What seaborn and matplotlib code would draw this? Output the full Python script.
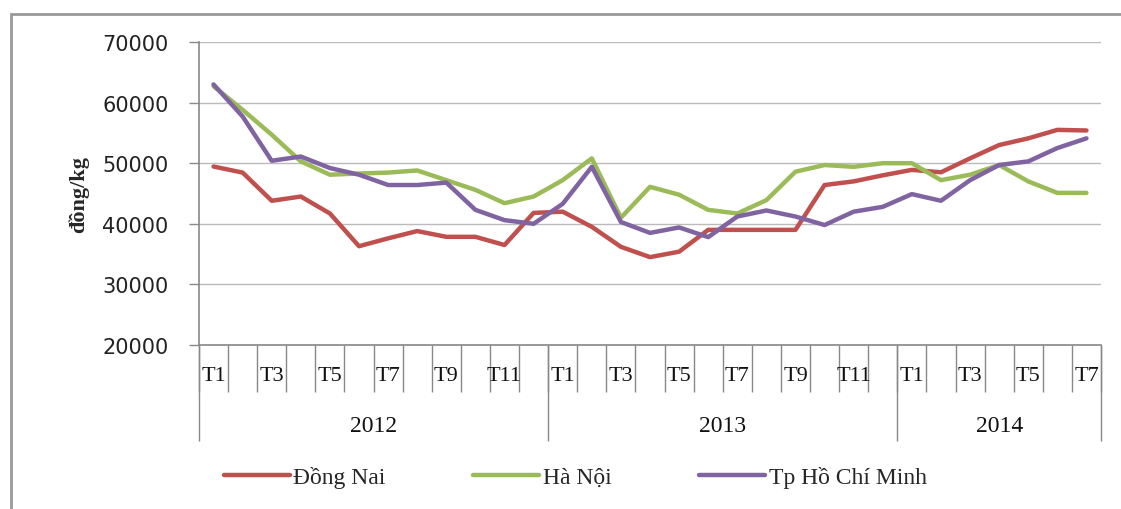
import numpy as np
import pandas as pd
import matplotlib
matplotlib.use("Agg")
import matplotlib.pyplot as plt
from matplotlib.patches import Rectangle
import seaborn as sns

# monthly prices, T1/2012 .. T7/2014
years = ['2012', '2013', '2014']
months_per_year = [12, 12, 7]
regions = ['Đồng Nai', 'Hà Nội', 'Tp Hồ Chí Minh']

dong_nai = [49450, 48450, 43800, 44500, 41700, 36300, 37600, 38800, 37850, 37850, 36500, 41800,
            42000, 39500, 36200, 34500, 35400, 39000, 39000, 39000, 39000, 46400, 47000, 48000,
            48900, 48500, 50800, 53000, 54100, 55500, 55400]
ha_noi = [62700, 58800, 54700, 50300, 48100, 48300, 48450, 48800, 47200, 45600, 43400, 44500,
          47200, 50800, 41000, 46100, 44800, 42300, 41700, 43900, 48600, 49700, 49400, 50000,
          50000, 47200, 48100, 49700, 47000, 45100, 45100]
hcm = [63000, 57700, 50400, 51100, 49200, 48100, 46400, 46400, 46800, 42300, 40600, 40000,
       43300, 49400, 40300, 38500, 39400, 37800, 41200, 42200, 41200, 39800, 42000, 42800,
       44900, 43800, 47200, 49700, 50300, 52500, 54100]

colors = ['#C0504D', '#9BBB59', '#8064A2']

n = len(dong_nai)
df = pd.DataFrame({
    'idx': list(range(n)) * 3,
    'price': dong_nai + ha_noi + hcm,
    'region': [regions[0]] * n + [regions[1]] * n + [regions[2]] * n,
})

sns.set_style("white")
plt.rcParams['font.family'] = ['Liberation Serif', 'DejaVu Serif']

fig = plt.figure(figsize=(11.21, 5.10), dpi=100)
ax = fig.add_axes([199/1121, 1-346/510, 902/1121, 303/510])

sns.lineplot(data=df, x='idx', y='price', hue='region', palette=colors,
             linewidth=3.2, errorbar=None, ax=ax)

ax.set_xlim(-0.5, n - 0.5)
ax.set_ylim(20000, 70000)
ax.set_yticks(range(20000, 70001, 10000))
ax.set_yticklabels([str(v) for v in range(20000, 70001, 10000)],
                   family='DejaVu Sans', fontsize=15, color='#222222')
ax.tick_params(axis='y', length=7, width=1, color='#888888', pad=15, left=True)
ax.set_xticks([])
ax.set_xlabel('')
ax.yaxis.grid(True, color='#BBBBBB', linewidth=1)
ax.set_axisbelow(True)
for s in ['top', 'right']:
    ax.spines[s].set_visible(False)
for s in ['left', 'bottom']:
    ax.spines[s].set_color('#888888')
    ax.spines[s].set_linewidth(1.2)
ax.set_ylabel('đồng/kg', fontsize=16, fontweight='bold', labelpad=9)

# multi-level category axis
tr = ax.get_xaxis_transform()
starts = np.cumsum([0] + months_per_year)
ax.vlines(np.arange(n + 1) - 0.5, -0.155, 0, transform=tr, clip_on=False,
          color='#888888', linewidth=1)
ax.vlines(starts - 0.5, -0.317, 0, transform=tr, clip_on=False,
          color='#888888', linewidth=1)
for y, s, m in zip(years, starts[:-1], months_per_year):
    for k in range(0, m, 2):
        ax.text(s + k, -0.102, 'T%d' % (k + 1), transform=tr, ha='center', va='center',
                fontsize=16, color='#111111')
    ax.text(s + (m - 1) / 2, -0.267, y, transform=tr, ha='center', va='center',
            fontsize=17, color='#111111')

sns.move_legend(ax, loc='center', bbox_to_anchor=(0.417, -0.436), ncol=3, frameon=False,
                title=None, fontsize=17, handlelength=2.8, handletextpad=0.15,
                columnspacing=3.7)

fig.add_artist(Rectangle((11/1121, -0.1), 1.2, 1.1 - 15/510,
                         transform=fig.transFigure, fill=False,
                         edgecolor='#999999', linewidth=2))

fig.savefig('out.png', dpi=100)
